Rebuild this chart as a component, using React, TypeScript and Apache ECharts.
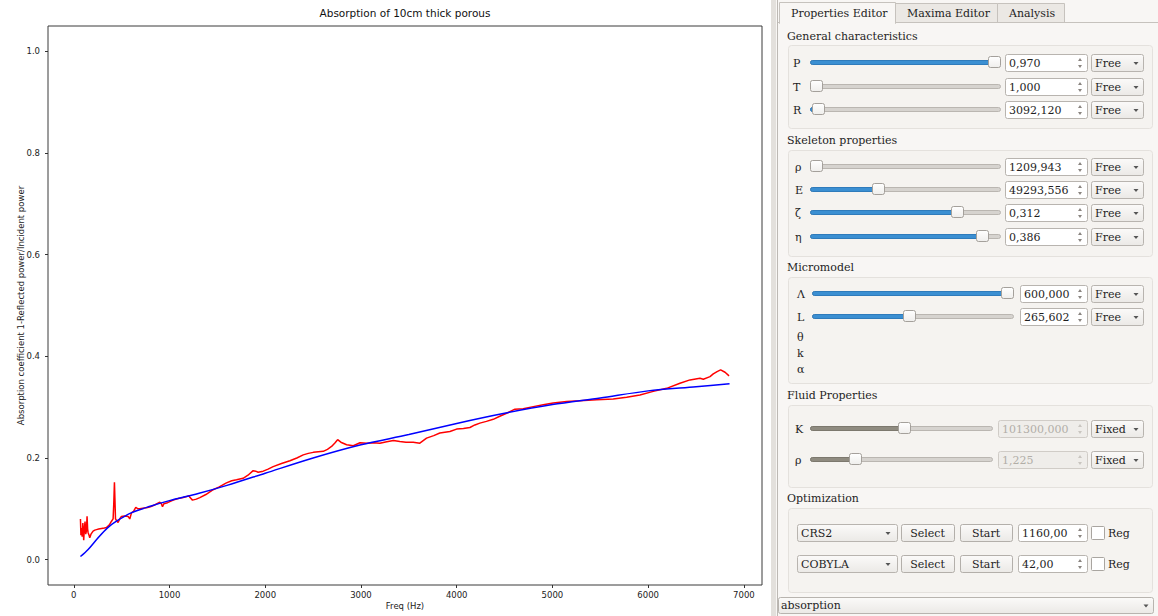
import React, { useEffect, useRef } from "react";
import * as echarts from "echarts";

// ---------------- chart data ----------------
const titleText = "Absorption of 10cm thick porous";
const xAxisName = "Freq (Hz)";
const yAxisName = "Absorption coefficient 1-Reflected power/Incident power";
const xTicks = [0, 1000, 2000, 3000, 4000, 5000, 6000, 7000];
const yTicks = [0, 0.2, 0.4, 0.6, 0.8, 1.0];

const measFreq = [
  70, 75, 80, 88, 95, 104, 110, 118, 125, 132, 139, 145, 150, 160, 167, 180, 202, 220, 237, 260,
  290, 320, 341, 370, 393, 411, 418, 425, 430, 436, 450, 463, 480, 498, 530, 568, 585, 603, 625, 648,
  670, 690, 720, 760, 800, 850, 899, 915, 927, 941, 980, 1039, 1090, 1143, 1180, 1202, 1215, 1240, 1280, 1317,
  1380, 1456, 1520, 1595, 1650, 1700, 1769, 1820, 1874, 1900, 1926, 1979, 2030, 2083, 2170, 2258, 2330, 2397, 2450, 2502,
  2606, 2650, 2693, 2730, 2756, 2790, 2850, 2920, 2990, 3060, 3130, 3197, 3270, 3339, 3406, 3470, 3546, 3615, 3650, 3685,
  3760, 3824, 3929, 3999, 4070, 4138, 4190, 4242, 4310, 4382, 4450, 4521, 4608, 4695, 4800, 4904, 5008, 5148, 5287, 5462,
  5635, 5775, 5914, 6053, 6193, 6332, 6437, 6541, 6576, 6646, 6680, 6720, 6757, 6803, 6845,
];
const measAbs = [
  0.080, 0.048, 0.062, 0.045, 0.072, 0.038, 0.060, 0.075, 0.050, 0.056, 0.085, 0.060, 0.053, 0.048, 0.043, 0.050, 0.056, 0.058, 0.059, 0.060,
  0.061, 0.062, 0.063, 0.068, 0.075, 0.080, 0.110, 0.152, 0.120, 0.080, 0.076, 0.073, 0.080, 0.085, 0.086, 0.085, 0.080, 0.092, 0.095, 0.103,
  0.100, 0.100, 0.101, 0.102, 0.104, 0.108, 0.113, 0.110, 0.104, 0.110, 0.112, 0.117, 0.120, 0.122, 0.124, 0.126, 0.122, 0.117, 0.119, 0.122,
  0.128, 0.1375, 0.143, 0.151, 0.155, 0.157, 0.160, 0.166, 0.175, 0.174, 0.172, 0.174, 0.178, 0.183, 0.189, 0.1945, 0.200, 0.206, 0.209, 0.211,
  0.213, 0.217, 0.2226, 0.230, 0.236, 0.231, 0.226, 0.224, 0.230, 0.229, 0.230, 0.229, 0.232, 0.2345, 0.2325, 0.231, 0.231, 0.229, 0.234, 0.239,
  0.244, 0.249, 0.252, 0.2568, 0.258, 0.260, 0.265, 0.2685, 0.272, 0.276, 0.282, 0.288, 0.296, 0.297, 0.301, 0.3045, 0.308, 0.311, 0.3124, 0.3143,
  0.316, 0.3196, 0.324, 0.331, 0.337, 0.347, 0.3536, 0.357, 0.355, 0.360, 0.3654, 0.370, 0.3733, 0.3687, 0.3615,
];

const fitFreq = [70, 150, 250, 350, 450, 600, 800, 1000, 1300, 1600, 2000, 2500, 3000, 3500, 4000, 4500, 5000, 5500, 6000, 6500, 6850];
const fitAbs = [0.006, 0.020, 0.042, 0.062, 0.076, 0.092, 0.105, 0.116, 0.130, 0.146, 0.170, 0.200, 0.226, 0.246, 0.268, 0.288, 0.305, 0.318, 0.332, 0.340, 0.346];

// ---------------- panel data ----------------
const tabNames = ["Properties Editor", "Maxima Editor", "Analysis"];
const sectionNames = ["General characteristics", "Skeleton properties", "Micromodel", "Fluid Properties", "Optimization"];
const paramNames = ["P", "T", "R", "ρ", "E", "ζ", "η", "Λ", "L", "K", "ρ"];
const paramValues = ["0,970", "1,000", "3092,120", "1209,943", "49293,556", "0,312", "0,386", "600,000", "265,602", "101300,000", "1,225"];
const paramModes = ["Free", "Free", "Free", "Free", "Free", "Free", "Free", "Free", "Free", "Fixed", "Fixed"];
const paramSlider = [1.0, 0.0, 0.01, 0.0, 0.35, 0.79, 0.93, 1.0, 0.48, 0.52, 0.23];
const extraMicroNames = ["θ", "k", "α"];
const optAlgorithms = ["CRS2", "COBYLA"];
const optValues = ["1160,00", "42,00"];
const optButtons = ["Select", "Start"];
const optCheckLabel = "Reg";
const outputChoice = "absorption";

const SERIF = "'DejaVu Serif', 'Liberation Serif', serif";
const TXT = "#1e1e1e";

function buildPanel(): any[] {
  const els: any[] = [];
  const txt = (t: string, x: number, y: number, extra: any = {}) => ({
    type: "text", x, y, silent: true,
    style: { text: t, font: "11px " + SERIF, fontFamily: SERIF, fontSize: 11, fill: TXT, align: "left", verticalAlign: "middle", ...extra },
  });
  const rect = (x: number, y: number, w: number, h: number, fill: any, stroke: any, r = 0) => ({
    type: "rect", silent: true, shape: { x, y, width: w, height: h, r },
    style: { fill, stroke, lineWidth: 1 },
  });
  const tri = (pts: number[][], fill: string) => ({ type: "polygon", silent: true, shape: { points: pts }, style: { fill } });
  const btnGrad = () => new echarts.graphic.LinearGradient(0, 0, 0, 1, [
    { offset: 0, color: "#fbfaf9" }, { offset: 1, color: "#ebe9e6" },
  ]);
  const handleGrad = () => new echarts.graphic.LinearGradient(0, 0, 0, 1, [
    { offset: 0, color: "#ffffff" }, { offset: 1, color: "#efeeec" },
  ]);
  const comboArrow = (x: number, y: number) => tri([[x - 2.5, y - 1], [x + 2.5, y - 1], [x, y + 2]], "#555");

  // background
  els.push(rect(771, 0, 387, 616, "#f8f6f4", null));
  els.push(rect(771, 0, 5, 616, "#e3e0dc", null));
  els.push({ type: "line", silent: true, shape: { x1: 777.5, y1: 0, x2: 777.5, y2: 616 }, style: { stroke: "#bdb9b4", lineWidth: 1 } });

  // tabs
  els.push(rect(895.5, 3.5, 102, 19, "#ebe8e4", "#c6c2bd"));
  els.push(rect(997.5, 3.5, 67, 19, "#ebe8e4", "#c6c2bd"));
  els.push({ type: "line", silent: true, shape: { x1: 778, y1: 22.5, x2: 1158, y2: 22.5 }, style: { stroke: "#c6c2bd", lineWidth: 1 } });
  els.push(rect(779.5, 2.5, 116, 21, "#f8f6f4", "#c6c2bd"));
  els.push(rect(780, 22, 115, 2, "#f8f6f4", null));
  const tabX = [791, 907, 1009];
  tabNames.forEach((t, i) => els.push(txt(t, tabX[i], 13)));

  // group boxes and section titles
  const secY = [36, 140, 267, 395, 498];
  const boxes = [[45, 128], [150, 256], [277, 383], [405, 487], [508, 592]];
  sectionNames.forEach((s, i) => {
    els.push(rect(788.5, boxes[i][0] + 0.5, 364, boxes[i][1] - boxes[i][0], "#f5f3f0", "#e4e1dd", 3));
    els.push(txt(s, 787, secY[i]));
  });

  // parameter rows
  const rowY = [63, 87, 110, 167, 190, 213, 237, 294, 317, 429, 460];
  paramNames.forEach((name, i) => {
    const y = rowY[i];
    const grp = i < 3 ? 0 : i < 7 ? 1 : i < 9 ? 2 : 3;
    const labelX = [793, 795, 797, 795][grp];
    const gx0 = [810, 810, 812, 810][grp];
    const gx1 = [1000, 1000, 1013, 992][grp];
    const sx0 = [1005, 1005, 1020, 998][grp];
    const disabled = grp === 3;
    els.push(txt(name, labelX, y));
    // slider
    const hc = gx0 + 6 + paramSlider[i] * (gx1 - gx0 - 12);
    els.push(rect(gx0 + 0.5, y - 2.5, gx1 - gx0, 4, "#d6d3cf", "#bab6b1", 2));
    if (hc - gx0 > 6) {
      els.push(rect(gx0 + 0.5, y - 2.5, hc - gx0, 4, disabled ? "#8f8b80" : "#3b8fd2", disabled ? "#7c786e" : "#2f7bbb", 2));
    } else if (paramSlider[i] > 0) {
      els.push(rect(gx0 + 0.5, y - 2.5, 4, 4, "#3b8fd2", "#2f7bbb", 2));
    }
    els.push(rect(Math.round(hc - 6) + 0.5, y - 6.5, 12, 11, handleGrad(), "#a4a09b", 2));
    // spin box
    els.push(rect(sx0 + 0.5, y - 8.5, 1087 - sx0, 17, disabled ? "#efedea" : "#ffffff", disabled ? "#d0ccc7" : "#b8b4af", 2));
    els.push(txt(paramValues[i], sx0 + 4, y, { fill: disabled ? "#b2aea8" : TXT }));
    const ac = disabled ? "#c9c5c0" : "#8a8580";
    els.push(tri([[1080, y - 5], [1078, y - 2], [1082, y - 2]], ac));
    els.push(tri([[1078, y + 2], [1082, y + 2], [1080, y + 5]], ac));
    // combo
    els.push(rect(1091.5, y - 8.5, 52, 17, btnGrad(), "#b8b4af", 2));
    els.push(txt(paramModes[i], 1095, y));
    els.push(comboArrow(1136, y));
  });
  const extraY = [337, 353, 369];
  extraMicroNames.forEach((n, i) => els.push(txt(n, 797, extraY[i])));

  // optimization rows
  const optY = [533, 564];
  optAlgorithms.forEach((a, i) => {
    const y = optY[i];
    els.push(rect(797.5, y - 8.5, 100, 17, btnGrad(), "#b8b4af", 2));
    els.push(txt(a, 801, y));
    els.push(comboArrow(888, y));
    const bx = [[901, 954], [960, 1012]];
    optButtons.forEach((b, j) => {
      els.push(rect(bx[j][0] + 0.5, y - 8.5, bx[j][1] - bx[j][0], 17, btnGrad(), "#b3afaa", 2));
      els.push(txt(b, (bx[j][0] + bx[j][1]) / 2, y, { align: "center" }));
    });
    els.push(rect(1018.5, y - 8.5, 69, 17, "#ffffff", "#b8b4af", 2));
    els.push(txt(optValues[i], 1022, y));
    els.push(tri([[1080, y - 5], [1078, y - 2], [1082, y - 2]], "#8a8580"));
    els.push(tri([[1078, y + 2], [1082, y + 2], [1080, y + 5]], "#8a8580"));
    els.push(rect(1091.5, y - 6.5, 13, 13, "#ffffff", "#a9a5a0", 1));
    els.push(txt(optCheckLabel, 1108, y));
  });

  // output combo
  els.push(rect(778.5, 597.5, 375, 16, btnGrad(), "#b8b4af", 2));
  els.push(txt(outputChoice, 781, 605.5));
  els.push(comboArrow(1146, 605.5));

  return els;
}

export default function App() {
  const ref = useRef<HTMLDivElement>(null);
  useEffect(() => {
    if (!ref.current) return;
    const chart = echarts.init(ref.current, undefined, { renderer: "svg" });
    const tickFont = { fontFamily: "DejaVu Sans", fontSize: 8.5, color: "#222" };
    const option: any = {
      animation: false,
      backgroundColor: "#ffffff",
      textStyle: { fontFamily: "DejaVu Sans" },
      grid: {
        left: 48, top: 26, width: 714, height: 559,
        show: true, borderColor: "#3a3a3a", borderWidth: 1, backgroundColor: "#ffffff",
        containLabel: false, outerBoundsMode: "none",
      },
      xAxis: {
        type: "value", min: -269, max: 7189,
        name: xAxisName, nameLocation: "middle", nameGap: 16, nameMoveOverlap: false,
        nameTextStyle: { ...tickFont },
        axisLine: { show: false, onZero: false },
        splitLine: { show: false },
        axisTick: { show: true, length: 3, lineStyle: { color: "#333" }, customValues: xTicks },
        axisLabel: { ...tickFont, margin: 5, customValues: xTicks, formatter: (v: number) => String(v) },
      },
      yAxis: {
        type: "value", min: -0.05, max: 1.05,
        name: yAxisName, nameLocation: "middle", nameGap: 23, nameRotate: 90, nameMoveOverlap: false,
        nameTextStyle: { ...tickFont },
        axisLine: { show: false, onZero: false },
        splitLine: { show: false },
        axisTick: { show: true, length: 3, lineStyle: { color: "#333" }, customValues: yTicks },
        axisLabel: { ...tickFont, margin: 8, customValues: yTicks, formatter: (v: number) => v.toFixed(1) },
      },
      series: [
        {
          type: "line", name: "measured", showSymbol: false, symbol: "none",
          data: measFreq.map((f, i) => [f, measAbs[i]]),
          lineStyle: { color: "#ff0000", width: 1.5 }, itemStyle: { color: "#ff0000" },
        },
        {
          type: "line", name: "model", showSymbol: false, symbol: "none", smooth: 0.3,
          data: fitFreq.map((f, i) => [f, fitAbs[i]]),
          lineStyle: { color: "#0000ff", width: 1.5 }, itemStyle: { color: "#0000ff" },
        },
      ],
      graphic: [
        {
          type: "text", x: 405, y: 13, silent: true,
          style: { text: titleText, fontFamily: "DejaVu Sans", fontSize: 10.5, fill: "#111", align: "center", verticalAlign: "middle" },
        },
        ...buildPanel(),
      ],
    };
    chart.setOption(option);
    return () => chart.dispose();
  }, []);
  return <div ref={ref} style={{ position: "absolute", left: 0, top: 0, width: 1158, height: 616 }} />;
}
